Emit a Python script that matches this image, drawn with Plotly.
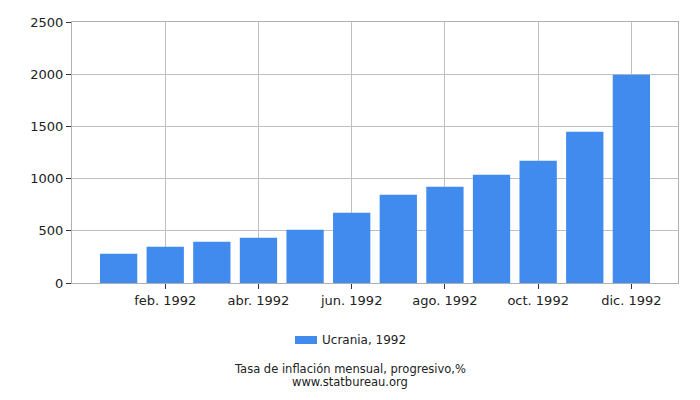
import plotly.graph_objects as go

# monthly inflation, cumulative, Ukraine 1992
months = ['ene. 1992', 'feb. 1992', 'mar. 1992', 'abr. 1992', 'may. 1992', 'jun. 1992',
          'jul. 1992', 'ago. 1992', 'sep. 1992', 'oct. 1992', 'nov. 1992', 'dic. 1992']
values = [280, 347, 395, 433, 510, 673, 846, 922, 1037, 1171, 1449, 1995]
tick_months = months[1::2]
y_ticks = [0, 500, 1000, 1500, 2000, 2500]

series_name = 'Ucrania, 1992'
title_text = 'Tasa de inflación mensual, progresivo,%'
source_text = 'www.statbureau.org'

bar_color = '#418BEE'
font = 'DejaVu Sans'

# page has an 8px body margin, so the plot box is shifted back by that much
fig = go.Figure()
fig.add_trace(go.Bar(
    x=months, y=values,
    name=series_name,
    marker=dict(color=bar_color, line_width=0),
    width=0.8,
    showlegend=False,
))

fig.update_layout(
    width=700, height=400,
    margin=dict(l=64, r=30, t=14, b=125, autoexpand=False),
    showlegend=False,
    plot_bgcolor='white',
    paper_bgcolor='white',
    font=dict(family=font, size=13, color='#222222'),
    xaxis=dict(
        type='category',
        categoryorder='array', categoryarray=months,
        range=[-1, 12],
        tickvals=tick_months,
        ticks='outside', ticklen=5, tickcolor='#333333',
        showgrid=True, gridcolor='#c0c0c0', gridwidth=1,
        showline=True, linecolor='#b0b0b0', mirror=True,
        tickfont=dict(size=13),
        automargin=False,
    ),
    yaxis=dict(
        range=[0, 2500],
        tickvals=y_ticks,
        ticks='outside', ticklen=5, tickcolor='#333333',
        showgrid=True, gridcolor='#c0c0c0', gridwidth=1,
        showline=True, linecolor='#b0b0b0', mirror=True,
        zeroline=False,
        tickfont=dict(size=13),
        automargin=False,
    ),
    bargap=0.2,
)


def px(x, y):
    # screen pixel -> paper coords (plot box spans x 72..678, y 22..283 on screen)
    return (x - 72) / 606, (283 - y) / 261


# legend drawn by hand: wide flat swatch as in the original
sx0, sy0 = px(295, 344)
sx1, sy1 = px(317, 336)
fig.add_shape(type='rect', xref='paper', yref='paper',
              x0=sx0, x1=sx1, y0=sy0, y1=sy1,
              fillcolor=bar_color, line_width=0)
lx, ly = px(320, 340)
fig.add_annotation(xref='paper', yref='paper', x=lx, y=ly,
                   text=series_name, showarrow=False, xanchor='left', yanchor='middle',
                   font=dict(size=12, color='#222222'))

tx, ty = px(350, 369)
fig.add_annotation(xref='paper', yref='paper', x=tx, y=ty,
                   text=title_text, showarrow=False, xanchor='center', yanchor='middle',
                   font=dict(size=11.5, color='#222222'))
ux, uy = px(350, 382)
fig.add_annotation(xref='paper', yref='paper', x=ux, y=uy,
                   text=source_text, showarrow=False, xanchor='center', yanchor='middle',
                   font=dict(size=11.5, color='#222222'))

fig.write_html("out.html")
